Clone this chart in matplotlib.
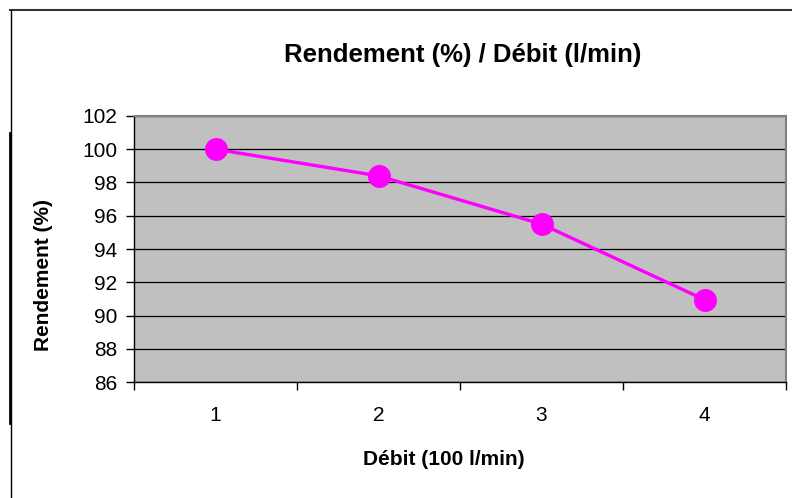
import matplotlib.pyplot as plt
from matplotlib.lines import Line2D

plt.rcParams['font.family'] = ['Liberation Sans', 'DejaVu Sans']

debit = [1, 2, 3, 4]
rendement = [100.0, 98.4, 95.5, 90.95]
yticks = [86, 88, 90, 92, 94, 96, 98, 100, 102]

fig = plt.figure(figsize=(7.92, 4.98), dpi=100)
ax = fig.add_axes([134/792, 1 - 382/498, (786 - 134)/792, (382 - 116)/498])
ax.set_facecolor('#C0C0C0')

ax.plot(debit, rendement, color='#FF00FF', linewidth=2.4, marker='o',
        markersize=15.5, markerfacecolor='#FF00FF', markeredgecolor='#FF00FF', zorder=3)

ax.set_xlim(0.5, 4.5)
ax.set_ylim(86, 102)
ax.set_yticks(yticks)
ax.set_xticks(debit)
ax.set_xticks([0.5, 1.5, 2.5, 3.5, 4.5], minor=True)
ax.tick_params(axis='x', which='major', length=0, labelsize=15, pad=17)
ax.tick_params(axis='x', which='minor', length=6, width=1, direction='out')
ax.tick_params(axis='y', length=6, width=1, labelsize=15, pad=6)
ax.yaxis.grid(True, color='black', linewidth=0.9)
ax.set_axisbelow(True)

for s in ['left', 'bottom']:
    ax.spines[s].set_color('black')
    ax.spines[s].set_linewidth(1)
for s in ['top', 'right']:
    ax.spines[s].set_color('#808080')
    ax.spines[s].set_linewidth(1.5)

fig.text(463/792, 1 - 55/498, 'Rendement (%) / Débit (l/min)', ha='center', va='center',
         fontsize=18.5, fontweight='bold')
fig.text(44/792, 1 - 275/498, 'Rendement (%)', ha='center', va='center', rotation=90,
         fontsize=15, fontweight='bold')
fig.text(444/792, 1 - 459/498, 'Débit (100 l/min)', ha='center', va='center',
         fontsize=15, fontweight='bold')

# chart border (top and left only visible)
fig.add_artist(Line2D([10/792, 1], [1 - 10.5/498, 1 - 10.5/498], transform=fig.transFigure,
                      color='#333333', linewidth=1.5))
fig.add_artist(Line2D([10.5/792, 10.5/792], [1 - 10/498, 0], transform=fig.transFigure,
                      color='black', linewidth=1))
fig.add_artist(Line2D([10/792, 10/792], [1 - 133/498, 1 - 423/498], transform=fig.transFigure,
                      color='black', linewidth=2))

fig.savefig('out.png', dpi=100)
